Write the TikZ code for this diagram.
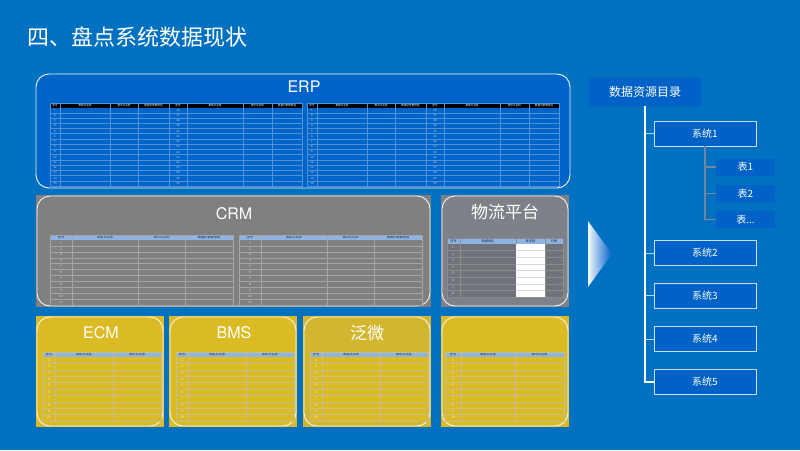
\documentclass[tikz,border=0pt]{standalone}
\usepackage{fontspec}
\setmainfont{Noto Sans CJK SC}
\newfontfamily\latf{TeX Gyre Heros}
\definecolor{bg}{RGB}{0,112,192}
\definecolor{erpfill}{RGB}{0,100,200}
\definecolor{boxblue}{RGB}{0,98,198}
\definecolor{crmgray}{RGB}{128,128,128}
\definecolor{wlgray}{RGB}{126,129,136}
\definecolor{wlbodyc}{RGB}{112,115,122}
\definecolor{yelA}{RGB}{219,187,36}
\definecolor{yelB}{RGB}{211,182,48}
\definecolor{hdrblue}{RGB}{141,180,226}
\definecolor{erpline}{RGB}{80,145,215}
\definecolor{crmline}{RGB}{165,165,165}
\definecolor{yelline}{RGB}{200,188,140}
\definecolor{hdrtext}{RGB}{25,40,75}
\definecolor{sysline}{RGB}{200,222,242}
\definecolor{sublinec}{RGB}{115,132,155}
\tikzset{
  erphead/.style={fill=black},
  erpbody/.style={fill=erpfill},
  erpgrid/.style={draw=erpline,line width=0.35pt},
  erplab/.style={text=white,inner sep=0pt,font=\fontsize{2.6}{3}\selectfont},
  erpnum/.style={text=white!80!erpfill,inner sep=0pt,font=\fontsize{2.8}{3}\selectfont},
  crmhead/.style={fill=hdrblue},
  crmbody/.style={fill=crmgray},
  crmgrid/.style={draw=crmline,line width=0.4pt},
  crmlab/.style={text=hdrtext,inner sep=0pt,font=\fontsize{3.2}{4}\selectfont},
  crmnum/.style={text=white!75!gray,inner sep=0pt,font=\fontsize{3.2}{4}\selectfont},
  wlhead/.style={fill=hdrblue},
  wlbody/.style={fill=wlbodyc},
  wlgrid/.style={draw=black!45,line width=0.4pt},
  wllab/.style={crmlab},
  wlnum/.style={crmnum},
  yelhead/.style={fill=hdrblue},
  yelbody/.style={fill=yelA},
  yelgrid/.style={draw=yelline,line width=0.45pt},
  yellab/.style={crmlab},
  yelnum/.style={text=white!80!yelA,inner sep=0pt,font=\fontsize{3.2}{4}\selectfont},
  card/.style={draw=white!92!gray,line width=0.9pt,rounded corners=13pt},
  cardtitle/.style={text=white,inner sep=0pt},
  rootbox/.style={fill=boxblue,text=white,minimum width=112pt,minimum height=28pt,inner sep=0pt,font=\fontsize{12}{14}\selectfont},
  sysbox/.style={fill=boxblue,draw=sysline,line width=0.8pt,text=white,minimum width=102pt,minimum height=25pt,inner sep=0pt,font=\fontsize{10}{12}\selectfont},
  tabbox/.style={fill=boxblue,text=white,minimum width=59pt,minimum height=17pt,inner sep=0pt,font=\fontsize{10}{12}\selectfont},
  trunk/.style={draw=white,line width=1.3pt},
  branch/.style={draw=white!70!bg,line width=1pt},
  subl/.style={draw=sublinec,line width=1.1pt},
}
% #1 xl, #2 xr, #3 ytop, #4 yhead, #5 ybot, #6 rows, #7 columns a/b/label, #8 style prefix
\newcommand\tabgrid[8]{%
  \fill[#8head] (#1,#3) rectangle (#2,#4);
  \fill[#8body] (#1,#4) rectangle (#2,#5);
  \pgfmathtruncatemacro\nrm{#6-1}
  \foreach \k in {1,...,\nrm}{\draw[#8grid] (#1,{#4+\k*(#5-#4)/#6}) -- (#2,{#4+\k*(#5-#4)/#6});}
  \foreach \a/\b/\t in {#7}{%
    \draw[#8grid] (\b,#3) -- (\b,#5);
    \node[#8lab] (L#8\a-#3) at ({(\a+\b)/2},{(#3+#4)/2}) {\t};}
  \draw[#8grid] (#1,#3) rectangle (#2,#5);
}
% #1 xcenter, #2 yhead, #3 ybot, #4 rows, #5 start, #6 style
\newcommand\rownums[6]{%
  \foreach \k in {1,...,#4}{%
    \pgfmathtruncatemacro\nv{#5+\k-1}
    \node[#6] (N#6\nv-#1) at (#1,{#2+(\k-0.5)*(#3-#2)/#4}) {\nv};}
}
\begin{document}
\begin{tikzpicture}[x=1pt,y=-1pt]
\useasboundingbox (0,0) rectangle (800,450);
\fill[bg] (0,0) rectangle (800,450);

% title
\node[anchor=west,text=white,inner sep=0pt,font=\fontsize{22}{26}\selectfont] (title) at (27,37) {四、盘点系统数据现状};

% ERP
\draw[card,fill=erpfill] (36,74) rectangle (570,188);
\node[cardtitle,font={\latf\fontsize{16}{18}\selectfont}] (erp) at (304,87) {ERP};
\tabgrid{50}{302}{103}{107.5}{186}{15}{50/60/序号,60/110/表英文名称,110/138/表中文名称,138/169/数据记录数预估,169/187/序号,187/243/表英文名称,243/272/表中文名称,272/302/数据记录数预估}{erp}
\rownums{55}{107.5}{186}{15}{1}{erpnum}
\rownums{178}{107.5}{186}{15}{16}{erpnum}
\tabgrid{307}{559}{103}{107.5}{186}{15}{307/317/序号,317/367/表英文名称,367/395/表中文名称,395/426/数据记录数预估,426/444/序号,444/500/表英文名称,500/529/表中文名称,529/559/数据记录数预估}{erp}
\rownums{312}{107.5}{186}{15}{1}{erpnum}
\rownums{435}{107.5}{186}{15}{16}{erpnum}

% CRM
\fill[crmgray] (36,195) rectangle (431,307);
\draw[card] (37,196) rectangle (430,306);
\node[cardtitle,font={\latf\fontsize{16}{18}\selectfont}] (crm) at (234,214) {CRM};
\tabgrid{50}{233}{235}{240}{305}{11}{50/72/序号,72/138/表英文名称,138/185/表中文名称,185/233/数据记录数预估}{crm}
\rownums{61}{240}{305}{11}{1}{crmnum}
\tabgrid{239}{422}{235}{240}{305}{11}{239/261/序号,261/327/表英文名称,327/374/表中文名称,374/422/数据记录数预估}{crm}
\rownums{250}{240}{305}{11}{1}{crmnum}

% 物流平台
\fill[wlgray] (441,195) rectangle (569,307);
\draw[card] (442,196) rectangle (568,306);
\node[cardtitle,font=\fontsize{17}{20}\selectfont] (wl) at (505,212) {物流平台};
\tabgrid{447}{563}{238}{244}{297}{8}{447/460/序号,460/516/数据表名,516/545/表注释,545/563/行数}{wl}
\fill[white] (516.3,244.3) rectangle (544.7,296.7);
\foreach \k in {1,...,7}{\draw[black!15,line width=0.3pt] (516.3,{244+\k*53/8}) -- (544.7,{244+\k*53/8});}
\rownums{453}{244}{297}{8}{1}{wlnum}

% yellow cards
\fill[yelA] (36,316) rectangle (164,427);
\draw[card] (37,317) rectangle (163,426);
\node[cardtitle,font={\latf\fontsize{16}{18}\selectfont}] (ecm) at (101,333) {ECM};
\tabgrid{43}{161}{352}{357}{421}{10}{43/55/序号,55/113/表英文名称,113/161/表中文名称}{yel}
\rownums{49}{357}{421}{10}{1}{yelnum}

\fill[yelA] (169,316) rectangle (297,427);
\draw[card] (170,317) rectangle (296,426);
\node[cardtitle,font={\latf\fontsize{16}{18}\selectfont}] (bms) at (234,333) {BMS};
\tabgrid{176}{294}{352}{357}{421}{10}{176/188/序号,188/246/表英文名称,246/294/表中文名称}{yel}
\rownums{182}{357}{421}{10}{1}{yelnum}

\fill[yelB] (303,316) rectangle (431,427);
\draw[card] (304,317) rectangle (430,426);
\node[cardtitle,font=\fontsize{17}{20}\selectfont] (fw) at (367,333) {泛微};
\tabgrid{310}{428}{352}{357}{421}{10}{310/322/序号,322/380/表英文名称,380/428/表中文名称}{yel}
\rownums{316}{357}{421}{10}{1}{yelnum}

\fill[yelA] (441,316) rectangle (569,427);
\draw[card] (442,317) rectangle (568,426);
\tabgrid{445}{564}{352}{357}{421}{10}{445/461/序号,461/515/表英文名称,515/564/表中文名称}{yel}
\rownums{453}{357}{421}{10}{1}{yelnum}

% arrow
\shade[left color=white!95!bg,right color=bg!85!blue] (588,221) -- (612,254) -- (588,287) -- cycle;

% tree
\node[rootbox] (root) at (645,92) {数据资源目录};
\node[sysbox] (s1) at (705,133.5) {系统1};
\node[sysbox] (s2) at (705,253) {系统2};
\node[sysbox] (s3) at (705,295.5) {系统3};
\node[sysbox] (s4) at (705,339) {系统4};
\node[sysbox] (s5) at (705,382) {系统5};
\node[tabbox] (t1) at (745.5,167) {表1};
\node[tabbox] (t2) at (745.5,193.5) {表2};
\node[tabbox] (t3) at (745.5,219.5) {表...};
\foreach \s in {s1,s2,s3,s4}{\draw[branch] (root.south |- \s.west) -- (\s.west);}
\draw[trunk] (root.south) |- (s5.west);
\draw[subl] (s1.south) |- (t3.west);
\draw[subl] (s1.south |- t1.west) -- (t1.west);
\draw[subl] (s1.south |- t2.west) -- (t2.west);
\end{tikzpicture}
\end{document}
